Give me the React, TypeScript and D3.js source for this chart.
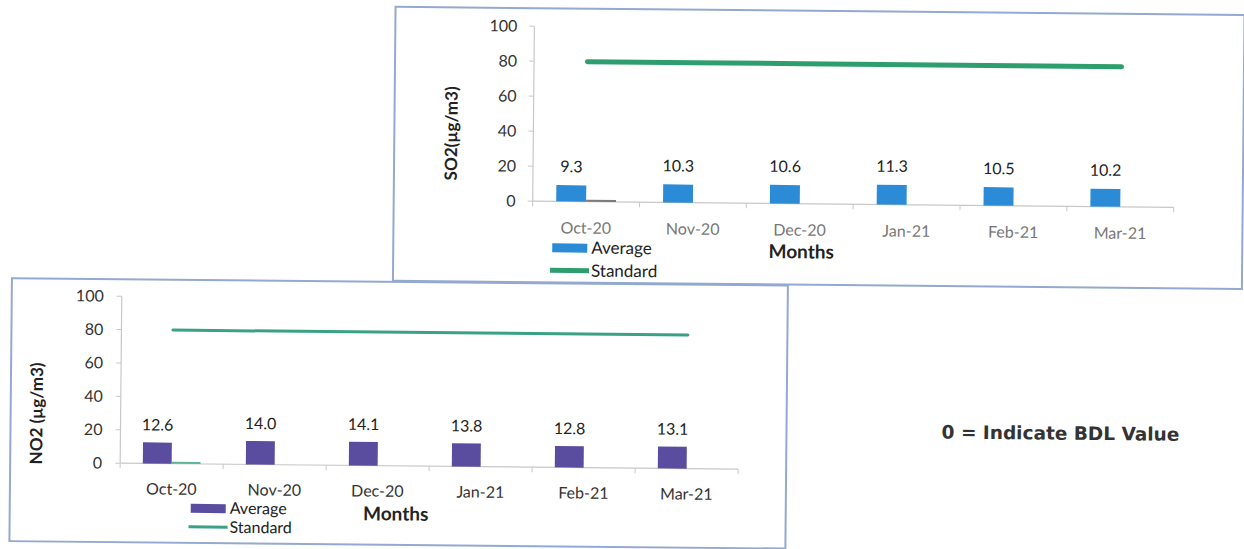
import React from "react";
import * as d3 from "d3";

const months = ["Oct-20", "Nov-20", "Dec-20", "Jan-21", "Feb-21", "Mar-21"];
const so2Average = [9.3, 10.3, 10.6, 11.3, 10.5, 10.2];
const so2Standard = [80, 80, 80, 80, 80, 80];
const no2Average = [12.6, 14.0, 14.1, 13.8, 12.8, 13.1];
const no2Standard = [80, 80, 80, 80, 80, 80];
const yTicks = [0, 20, 40, 60, 80, 100];
const seriesNames = ["Average", "Standard"];
const note = "0 = Indicate BDL Value";

type ChartProps = {
  frame: [number, number, number, number];
  x0: number; x1: number; yBottom: number; yTop: number;
  avg: number[]; std: number[];
  barColor: string; lineColor: string; lineWidth: number; zeroColor: string;
  yTitle: string; yTitleX: number; yTitleY: number;
  tickLabelX: number; xLabelY: number; xLabelColor: string;
  labelOffset: number;
  legendX: number; legendY1: number; legendY2: number; legendFont: number;
  monthsX: number; monthsY: number;
};

const FONT = "Lato, 'Open Sans', sans-serif";

function Chart(p: ChartProps) {
  const x = d3.scaleBand<string>().domain(months).range([p.x0, p.x1]).paddingInner(0.44).paddingOuter(0.22);
  const inner = d3.scaleBand<string>().domain(seriesNames).range([0, x.bandwidth()]);
  const y = d3.scaleLinear().domain([0, 100]).range([p.yBottom, p.yTop]);
  const center = (m: string) => (x(m) as number) + x.bandwidth() / 2;
  const line = d3.line<number>().x((_, i) => center(months[i])).y((v) => y(v));
  const boundaries = d3.range(months.length + 1).map((i) => p.x0 + ((p.x1 - p.x0) * i) / months.length);
  const [fx, fy, fw, fh] = p.frame;
  return (
    <g>
      <rect x={fx} y={fy} width={fw} height={fh} fill="#ffffff" stroke="#94a9cf" strokeWidth={2} />
      <line x1={p.x0} x2={p.x0} y1={y(0)} y2={y(100)} stroke="#c8c8c8" strokeWidth={1.2} />
      {yTicks.map((t) => (
        <g key={t}>
          <line x1={p.x0 - 5} x2={p.x0} y1={y(t)} y2={y(t)} stroke="#c8c8c8" />
          <text x={p.tickLabelX} y={y(t)} dy="0.35em" textAnchor="end" fontSize={16} fill="#333" fontFamily={FONT}>{t}</text>
        </g>
      ))}
      <line x1={p.x0} x2={p.x1} y1={y(0)} y2={y(0)} stroke="#c8c8c8" strokeWidth={1.2} />
      {boundaries.map((b, i) => (
        <line key={i} x1={b} x2={b} y1={y(0)} y2={y(0) + 5} stroke="#c8c8c8" />
      ))}
      {months.map((m) => (
        <text key={m} x={center(m)} y={p.xLabelY} textAnchor="middle" fontSize={16} fill={p.xLabelColor} fontFamily={FONT}>{m}</text>
      ))}
      {months.map((m, i) => {
        const bx = (x(m) as number) + (inner("Average") as number);
        return (
          <g key={m}>
            <rect x={bx} y={y(p.avg[i])} width={inner.bandwidth()} height={y(0) - y(p.avg[i])} fill={p.barColor} />
            <text x={bx + inner.bandwidth() / 2} y={y(p.avg[i]) - p.labelOffset} textAnchor="middle" fontSize={16} fill="#222" fontFamily={FONT}>{p.avg[i].toFixed(1)}</text>
          </g>
        );
      })}
      <line x1={(x(months[0]) as number) + (inner("Standard") as number)} x2={(x(months[0]) as number) + (inner("Standard") as number) + inner.bandwidth()} y1={y(0) - 1} y2={y(0) - 1} stroke={p.zeroColor} strokeWidth={2} />
      <path d={line(p.std) as string} fill="none" stroke={p.lineColor} strokeWidth={p.lineWidth} strokeLinecap="round" />
      <rect x={p.legendX} y={p.legendY1 - 4} width={35} height={9} fill={p.barColor} />
      <text x={p.legendX + 39} y={p.legendY1} dy="0.35em" fontSize={p.legendFont} fill="#222" fontFamily={FONT}>Average</text>
      <line x1={p.legendX - 2} x2={p.legendX + 37} y1={p.legendY2} y2={p.legendY2} stroke={p.lineColor} strokeWidth={p.lineWidth} />
      <text x={p.legendX + 39} y={p.legendY2} dy="0.35em" fontSize={p.legendFont} fill="#222" fontFamily={FONT}>Standard</text>
      <text x={p.monthsX} y={p.monthsY} dy="0.35em" textAnchor="middle" fontSize={19} fontWeight="bold" fill="#222" fontFamily={FONT}>Months</text>
      <text transform={`translate(${p.yTitleX},${p.yTitleY}) rotate(-90)`} textAnchor="middle" dy="0.35em" fontSize={17} fontWeight="bold" fill="#222" fontFamily={FONT}>{p.yTitle}</text>
    </g>
  );
}

export default function App() {
  return (
    <svg width={1244} height={549} style={{ position: "absolute", left: 0, top: 0, background: "#fff" }}>
      <rect x={0} y={0} width={1244} height={549} fill="#fff" />
      <g transform="rotate(0.55, 622, 274)">
        <Chart
          frame={[393, 9, 849, 274]}
          x0={532} x1={1173} yBottom={202} yTop={27}
          avg={so2Average} std={so2Standard}
          barColor="#2b8bd6" lineColor="#2f9e6e" lineWidth={5} zeroColor="#7a7a7a"
          yTitle="SO2(µg/m3)" yTitleX={450} yTitleY={135}
          tickLabelX={515} xLabelY={234} xLabelColor="#777"
          labelOffset={13}
          legendX={552} legendY1={248} legendY2={271} legendFont={17}
          monthsX={801} monthsY={250}
        />
        <Chart
          frame={[12, 284, 776, 263]}
          x0={122} x1={740} yBottom={468} yTop={301}
          avg={no2Average} std={no2Standard}
          barColor="#5a4c9e" lineColor="#3aa184" lineWidth={3} zeroColor="#5fb598"
          yTitle="NO2 (µg/m3)" yTitleX={38} yTitleY={419}
          tickLabelX={104} xLabelY={499} xLabelColor="#333"
          labelOffset={12}
          legendX={193} legendY1={512} legendY2={531} legendFont={16}
          monthsX={398} monthsY={516}
        />
        <text x={1062} y={429} dy="0.35em" textAnchor="middle" fontSize={18.5} fontWeight="bold" fill="#333" fontFamily="'DejaVu Sans', Verdana, sans-serif">{note}</text>
      </g>
    </svg>
  );
}
